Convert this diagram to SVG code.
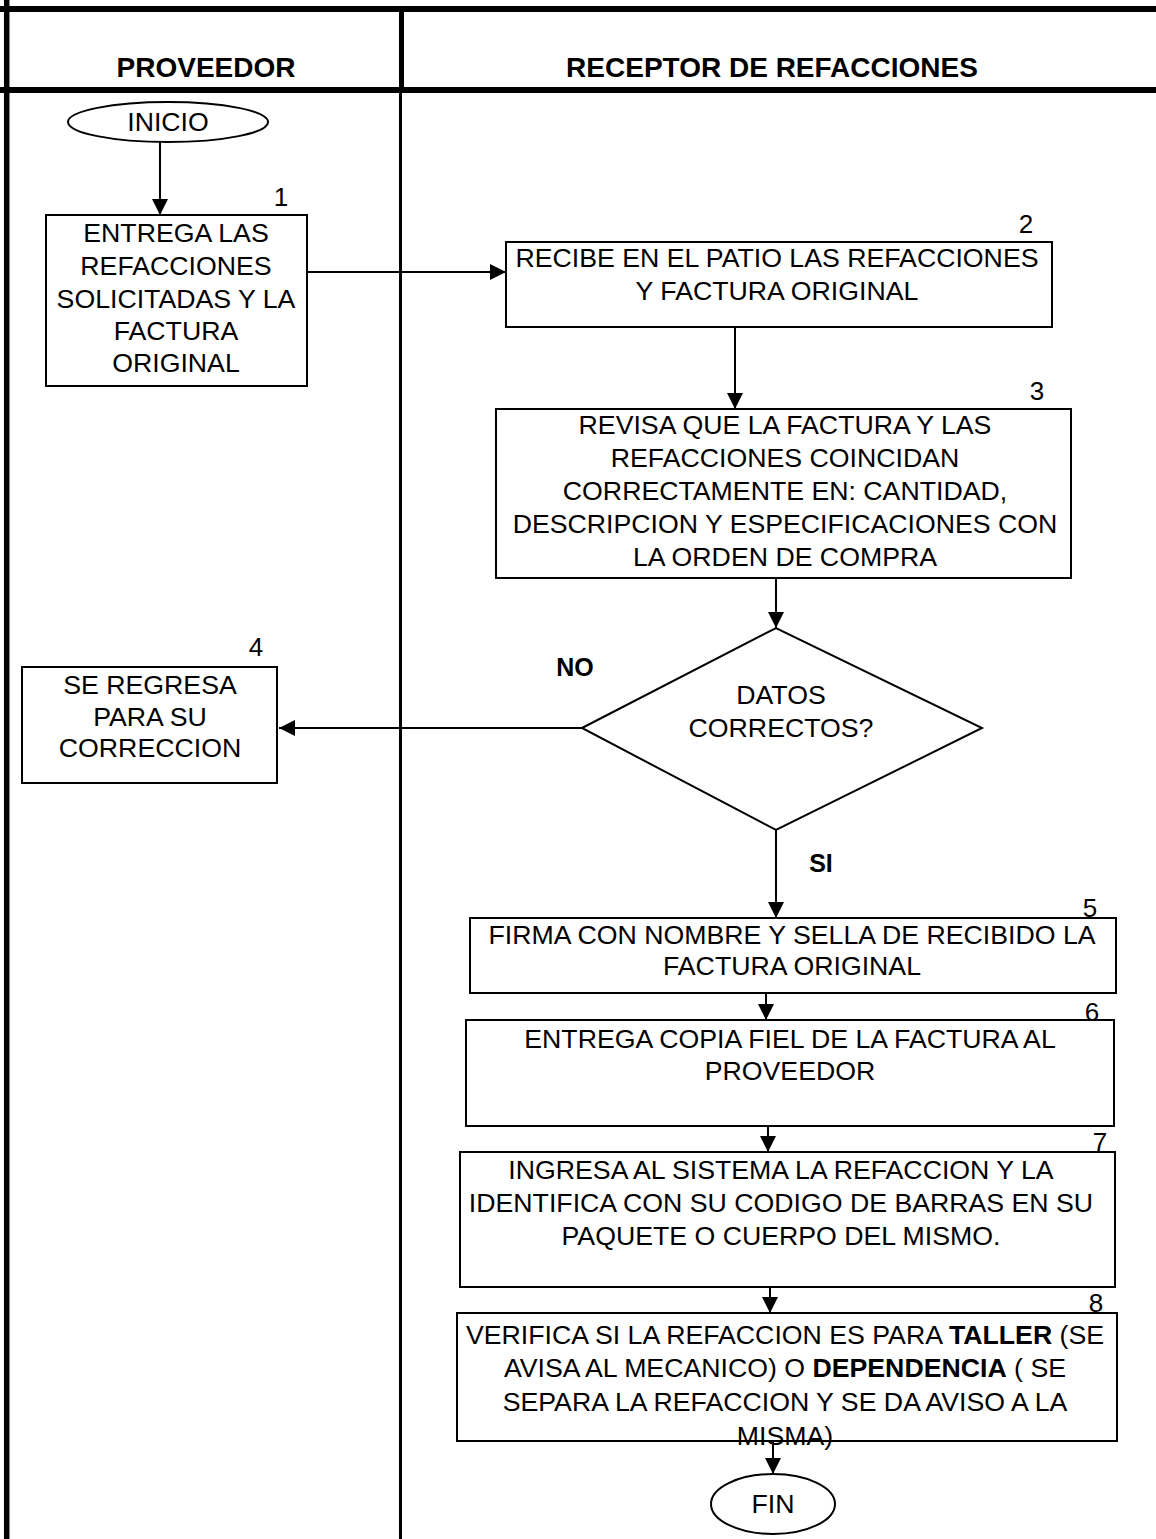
<svg xmlns="http://www.w3.org/2000/svg" width="1156" height="1539" viewBox="0 0 1156 1539">
  <style>
    .lane { stroke: #000; fill: none; }
    .box { fill: #fff; stroke: #000; stroke-width: 2; }
    .t { font-family: "Liberation Sans", Arial, sans-serif; font-size: 26.7px; fill: #000; text-anchor: middle; }
    .num { font-family: "Liberation Sans", Arial, sans-serif; font-size: 26px; fill: #000; text-anchor: middle; }
    .hdr { font-family: "Liberation Sans", Arial, sans-serif; font-size: 28px; font-weight: bold; fill: #000; text-anchor: middle; }
    .lbl { font-family: "Liberation Sans", Arial, sans-serif; font-size: 25px; font-weight: bold; fill: #000; text-anchor: middle; }
    .b { font-weight: bold; }
    .conn { stroke: #000; stroke-width: 2; fill: none; marker-end: url(#arrow); }
  </style>
  <defs>
    <marker id="arrow" markerUnits="userSpaceOnUse" markerWidth="16" markerHeight="16" viewBox="0 0 16 16" refX="16" refY="8" orient="auto">
      <path d="M0,0 L16,8 L0,16 Z" fill="#000"/>
    </marker>
  </defs>

  <rect width="1156" height="1539" fill="#fff"/>

  <!-- swimlane frame -->
  <g id="lanes">
    <line class="lane" x1="0" y1="9" x2="1156" y2="9" stroke-width="6"/>
    <line class="lane" x1="0" y1="90" x2="1156" y2="90" stroke-width="6"/>
    <line class="lane" x1="6.7" y1="0" x2="6.7" y2="1539" stroke-width="5.5"/>
    <line class="lane" x1="401.5" y1="9" x2="401.5" y2="90" stroke-width="5"/>
    <line class="lane" x1="400.5" y1="90" x2="400.5" y2="1539" stroke-width="3"/>
    <text class="hdr" x="206" y="77">PROVEEDOR</text>
    <text class="hdr" x="772" y="77">RECEPTOR DE REFACCIONES</text>
  </g>

  <!-- connectors -->
  <g id="connectors">
    <line class="conn" x1="160" y1="140" x2="160" y2="215"/>
    <line class="conn" x1="307" y1="272" x2="506" y2="272"/>
    <line class="conn" x1="735" y1="327" x2="735" y2="409"/>
    <line class="conn" x1="776" y1="578" x2="776" y2="628"/>
    <line class="conn" x1="582" y1="728" x2="279" y2="728"/>
    <line class="conn" x1="776" y1="830" x2="776" y2="918"/>
    <line class="conn" x1="766" y1="993" x2="766" y2="1020"/>
    <line class="conn" x1="768" y1="1126" x2="768" y2="1152"/>
    <line class="conn" x1="770" y1="1287" x2="770" y2="1313"/>
    <line class="conn" x1="773" y1="1441" x2="773" y2="1474"/>
    <text class="lbl" x="575" y="676">NO</text>
    <text class="lbl" x="821" y="872">SI</text>
  </g>

  <g id="inicio">
    <ellipse class="box" cx="168" cy="122" rx="100" ry="20"/>
    <text class="t" x="168" y="131">INICIO</text>
  </g>

  <g id="step1">
    <rect class="box" x="46" y="215" width="261" height="171"/>
    <text class="num" x="281" y="206">1</text>
    <text class="t" x="176" y="242">ENTREGA LAS</text>
    <text class="t" x="176" y="275">REFACCIONES</text>
    <text class="t" x="176" y="308">SOLICITADAS Y LA</text>
    <text class="t" x="176" y="340">FACTURA</text>
    <text class="t" x="176" y="372">ORIGINAL</text>
  </g>

  <g id="step2">
    <rect class="box" x="506" y="242" width="546" height="85"/>
    <text class="num" x="1026" y="233">2</text>
    <text class="t" x="777" y="267">RECIBE EN EL PATIO LAS REFACCIONES</text>
    <text class="t" x="777" y="300">Y FACTURA ORIGINAL</text>
  </g>

  <g id="step3">
    <rect class="box" x="496" y="409" width="575" height="169"/>
    <text class="num" x="1037" y="400">3</text>
    <text class="t" x="785" y="434">REVISA QUE LA FACTURA Y LAS</text>
    <text class="t" x="785" y="467">REFACCIONES COINCIDAN</text>
    <text class="t" x="785" y="500">CORRECTAMENTE EN: CANTIDAD,</text>
    <text class="t" x="785" y="533">DESCRIPCION Y ESPECIFICACIONES CON</text>
    <text class="t" x="785" y="566">LA ORDEN DE COMPRA</text>
  </g>

  <g id="step4">
    <rect class="box" x="22" y="667" width="255" height="116"/>
    <text class="num" x="256" y="656">4</text>
    <text class="t" x="150" y="694">SE REGRESA</text>
    <text class="t" x="150" y="726">PARA SU</text>
    <text class="t" x="150" y="757">CORRECCION</text>
  </g>

  <g id="decision">
    <polygon class="box" points="582,728 776,628 982,728 776,830"/>
    <text class="t" x="781" y="704">DATOS</text>
    <text class="t" x="781" y="737">CORRECTOS?</text>
  </g>

  <g id="step5">
    <rect class="box" x="470" y="918" width="646" height="75"/>
    <text class="num" x="1090" y="917">5</text>
    <text class="t" x="792" y="944">FIRMA CON NOMBRE Y SELLA DE RECIBIDO LA</text>
    <text class="t" x="792" y="975">FACTURA ORIGINAL</text>
  </g>

  <g id="step6">
    <rect class="box" x="466" y="1020" width="648" height="106"/>
    <text class="num" x="1092" y="1021">6</text>
    <text class="t" x="790" y="1048">ENTREGA COPIA FIEL DE LA FACTURA AL</text>
    <text class="t" x="790" y="1080">PROVEEDOR</text>
  </g>

  <g id="step7">
    <rect class="box" x="460" y="1152" width="655" height="135"/>
    <text class="num" x="1100" y="1151">7</text>
    <text class="t" x="781" y="1179">INGRESA AL SISTEMA LA REFACCION Y LA</text>
    <text class="t" x="781" y="1212">IDENTIFICA CON SU CODIGO DE BARRAS EN SU</text>
    <text class="t" x="781" y="1245">PAQUETE O CUERPO DEL MISMO.</text>
  </g>

  <g id="step8">
    <rect class="box" x="457" y="1313" width="660" height="128"/>
    <text class="num" x="1096" y="1312">8</text>
    <text class="t" x="785" y="1344">VERIFICA SI LA REFACCION ES PARA <tspan class="b">TALLER</tspan> (SE</text>
    <text class="t" x="785" y="1377">AVISA AL MECANICO) O <tspan class="b">DEPENDENCIA</tspan> ( SE</text>
    <text class="t" x="785" y="1411">SEPARA LA REFACCION Y SE DA AVISO A LA</text>
    <text class="t" x="785" y="1445">MISMA)</text>
  </g>

  <g id="fin">
    <ellipse class="box" cx="773" cy="1504" rx="62" ry="30"/>
    <text class="t" x="773" y="1513">FIN</text>
  </g>
</svg>
